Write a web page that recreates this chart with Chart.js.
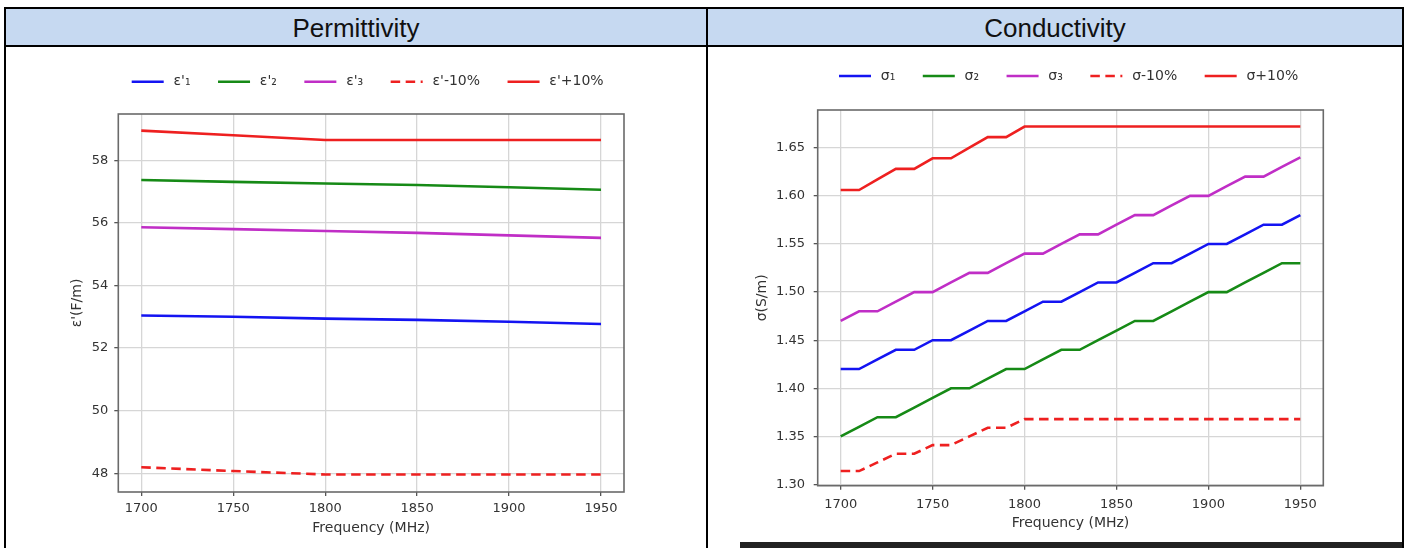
<!DOCTYPE html>
<html lang="en">
<head>
<meta charset="UTF-8">
<title>Permittivity and Conductivity</title>
<style>
  body { margin: 0; background: #fff; width: 1407px; height: 548px; overflow: hidden; position: relative; }
  .rule { position: absolute; background: #000; z-index: 2; }
  .head { position: absolute; background: #c6d9f1; font-family: "Liberation Sans", Arial, sans-serif;
          font-size: 26px; color: #111; text-align: center; line-height: 38px; }
  canvas { position: absolute; z-index: 1; }
</style>
</head>
<body>

<div class="head" style="left:6px; top:9px; width:700px; height:36px;">Permittivity</div>
<div class="head" style="left:708px; top:9px; width:694px; height:36px;">Conductivity</div>

<div class="rule" style="left:4px; top:7px; width:1400px; height:2px;"></div>
<div class="rule" style="left:4px; top:45px; width:1400px; height:2px;"></div>
<div class="rule" style="left:4px; top:7px; width:2px; height:541px;"></div>
<div class="rule" style="left:706px; top:7px; width:2px; height:541px;"></div>
<div class="rule" style="left:1402px; top:7px; width:2px; height:541px;"></div>
<div class="rule" style="left:740px; top:542px; width:662px; height:6px; background:#222;"></div>

<canvas id="permChart" width="700" height="500" style="left:6px; top:48px;"></canvas>
<canvas id="condChart" width="694" height="500" style="left:708px; top:48px;"></canvas>

<script src="https://cdn.jsdelivr.net/npm/chart.js"></script>
<script>
    // permittivity, read at every 50 MHz
    var epsFreq = [1700, 1750, 1800, 1850, 1900, 1950];
    var eps1 = [53.04, 53.00, 52.94, 52.90, 52.84, 52.77];
    var eps2 = [57.37, 57.31, 57.26, 57.21, 57.14, 57.06];
    var eps3 = [55.86, 55.80, 55.74, 55.68, 55.60, 55.52];
    var epsMinus10 = [48.19, 48.07, 47.96, 47.96, 47.96, 47.96];
    var epsPlus10 = [58.95, 58.80, 58.65, 58.65, 58.65, 58.65];
    var epsNames = ["ε'₁", "ε'₂", "ε'₃", "ε'-10%", "ε'+10%"];
    var epsTicks = [48, 50, 52, 54, 56, 58];

    // conductivity, every 10 MHz
    var sigFreq = [1700, 1710, 1720, 1730, 1740, 1750, 1760, 1770, 1780, 1790, 1800, 1810, 1820,
                   1830, 1840, 1850, 1860, 1870, 1880, 1890, 1900, 1910, 1920, 1930, 1940, 1950];
    var sig1 = [1.42, 1.42, 1.43, 1.44, 1.44, 1.45, 1.45, 1.46, 1.47, 1.47, 1.48, 1.49, 1.49,
                1.50, 1.51, 1.51, 1.52, 1.53, 1.53, 1.54, 1.55, 1.55, 1.56, 1.57, 1.57, 1.58];
    var sig2 = [1.35, 1.36, 1.37, 1.37, 1.38, 1.39, 1.40, 1.40, 1.41, 1.42, 1.42, 1.43, 1.44,
                1.44, 1.45, 1.46, 1.47, 1.47, 1.48, 1.49, 1.50, 1.50, 1.51, 1.52, 1.53, 1.53];
    var sig3 = [1.47, 1.48, 1.48, 1.49, 1.50, 1.50, 1.51, 1.52, 1.52, 1.53, 1.54, 1.54, 1.55,
                1.56, 1.56, 1.57, 1.58, 1.58, 1.59, 1.60, 1.60, 1.61, 1.62, 1.62, 1.63, 1.64];
    var sigMinus10 = [1.314, 1.314, 1.323, 1.332, 1.332, 1.341, 1.341, 1.350, 1.359, 1.359, 1.368, 1.368, 1.368,
                      1.368, 1.368, 1.368, 1.368, 1.368, 1.368, 1.368, 1.368, 1.368, 1.368, 1.368, 1.368, 1.368];
    var sigPlus10 = [1.606, 1.606, 1.617, 1.628, 1.628, 1.639, 1.639, 1.650, 1.661, 1.661, 1.672, 1.672, 1.672,
                     1.672, 1.672, 1.672, 1.672, 1.672, 1.672, 1.672, 1.672, 1.672, 1.672, 1.672, 1.672, 1.672];
    var sigNames = ["σ₁", "σ₂", "σ₃", "σ-10%", "σ+10%"];
    var sigTicks = [1.30, 1.35, 1.40, 1.45, 1.50, 1.55, 1.60, 1.65];
    var freqTicks = [1700, 1750, 1800, 1850, 1900, 1950];

    var colors = ["#1414f2", "#168a16", "#c02ec6", "#ee2020", "#ee2020"];

    var FONT = "'DejaVu Sans', sans-serif";

    function points(xs, ys) {
        return xs.map(function (x, i) { return { x: x, y: ys[i] }; });
    }

    function makeSets(xs, series, names) {
        return series.map(function (ys, i) {
            return {
                label: "\u2009" + names[i],
                data: points(xs, ys),
                borderColor: colors[i],
                backgroundColor: colors[i],
                borderWidth: 2.6,
                borderDash: i === 3 ? [9.5, 5.5] : [],
                pointRadius: 0,
                tension: 0
            };
        });
    }

    // legend handles take the line's dash and width, not the point's
    function lineLabels(chart) {
        var items = Chart.defaults.plugins.legend.labels.generateLabels(chart);
        items.forEach(function (it) {
            var ds = chart.data.datasets[it.datasetIndex];
            it.lineDash = ds.borderDash;
            it.lineWidth = ds.borderWidth;
            it.strokeStyle = ds.borderColor;
        });
        return items;
    }

    // matplotlib-like box around the plot
    var framePlugin = {
        id: "frame",
        afterDatasetsDraw: function (chart) {
            var a = chart.chartArea, ctx = chart.ctx;
            ctx.save();
            ctx.strokeStyle = "#6a6a6a";
            ctx.lineWidth = 1.6;
            ctx.strokeRect(a.left, a.top, a.right - a.left, a.bottom - a.top);
            ctx.restore();
        }
    };

    // put the legend row where it sits in the picture
    var legendPlace = {
        id: "legendPlace",
        afterLayout: function (chart, args, opts) {
            var lg = chart.legend;
            var pad = lg.options.labels.padding;
            lg.left = opts.x - pad;
            lg.right = lg.left + 1000;
            lg.top = opts.y - pad - 7;
            lg.bottom = lg.top + 80;
        }
    };

    function makeOptions(cfg) {
        var tickFont = { family: FONT, size: 13 };
        var titleFont = { family: FONT, size: 14 };
        return {
            responsive: false,
            animation: false,
            layout: { padding: cfg.padding },
            plugins: {
                legend: {
                    align: "start",
                    labels: {
                        usePointStyle: true,
                        pointStyle: "line",
                        pointStyleWidth: 32,
                        padding: 27.5,
                        color: "#333",
                        font: { family: FONT, size: 14 },
                        generateLabels: lineLabels
                    }
                },
                legendPlace: { x: cfg.legendX, y: cfg.legendY },
                tooltip: { enabled: false }
            },
            scales: {
                x: {
                    type: "linear",
                    min: 1687.5,
                    max: 1962.5,
                    afterBuildTicks: function (s) {
                        s.ticks = freqTicks.map(function (v) { return { value: v }; });
                    },
                    afterFit: function (s) { s.height = cfg.xHeight; },
                    grid: { color: "#d6d6d6", lineWidth: 1.3, tickLength: 4, tickColor: "#555", tickWidth: 1.3 },
                    border: { display: false },
                    ticks: {
                        padding: cfg.xTickPad,
                        color: "#333",
                        font: tickFont,
                        maxRotation: 0,
                        callback: function (v) { return String(v); }
                    },
                    title: {
                        display: true,
                        text: "Frequency (MHz)",
                        color: "#333",
                        font: titleFont,
                        padding: { top: 0, bottom: cfg.xTitlePad }
                    }
                },
                y: {
                    min: cfg.yMin,
                    max: cfg.yMax,
                    afterBuildTicks: function (s) {
                        s.ticks = cfg.yTicks.map(function (v) { return { value: v }; });
                    },
                    afterFit: function (s) { s.width = cfg.yWidth; },
                    grid: { color: "#d6d6d6", lineWidth: 1.3, tickLength: 4, tickColor: "#555", tickWidth: 1.3 },
                    border: { display: false },
                    ticks: {
                        padding: cfg.yTickPad,
                        color: "#333",
                        font: tickFont,
                        callback: cfg.yFormat
                    },
                    title: {
                        display: true,
                        text: cfg.yTitle,
                        color: "#333",
                        font: titleFont,
                        padding: { top: cfg.yTitlePad, bottom: 0 }
                    }
                }
            }
        };
    }

    new Chart(document.getElementById("permChart"), {
        type: "line",
        data: { datasets: makeSets(epsFreq, [eps1, eps2, eps3, epsMinus10, epsPlus10], epsNames) },
        options: makeOptions({
            padding: { left: 55, right: 82, top: 14.5, bottom: 10 },
            legendX: 125.7, legendY: 33.7,
            xHeight: 46, xTickPad: 5, xTitlePad: 1.6,
            yMin: 47.40, yMax: 59.48, yTicks: epsTicks, yWidth: 57.3, yTickPad: 6, yTitlePad: 7.6,
            yTitle: "ε'(F/m)",
            yFormat: function (v) { return String(v); }
        }),
        plugins: [framePlugin, legendPlace]
    });

    new Chart(document.getElementById("condChart"), {
        type: "line",
        data: { datasets: makeSets(sigFreq, [sig1, sig2, sig3, sigMinus10, sigPlus10], sigNames) },
        options: makeOptions({
            padding: { left: 40, right: 78.7, top: 10.5, bottom: 15 },
            legendX: 131, legendY: 28,
            xHeight: 47.3, xTickPad: 7, xTitlePad: 1.6,
            yMin: 1.2988, yMax: 1.6892, yTicks: sigTicks, yWidth: 69.7, yTickPad: 8.7, yTitlePad: 5.6,
            yTitle: "σ(S/m)",
            yFormat: function (v) { return v.toFixed(2); }
        }),
        plugins: [framePlugin, legendPlace]
    });
</script>
</body>
</html>
